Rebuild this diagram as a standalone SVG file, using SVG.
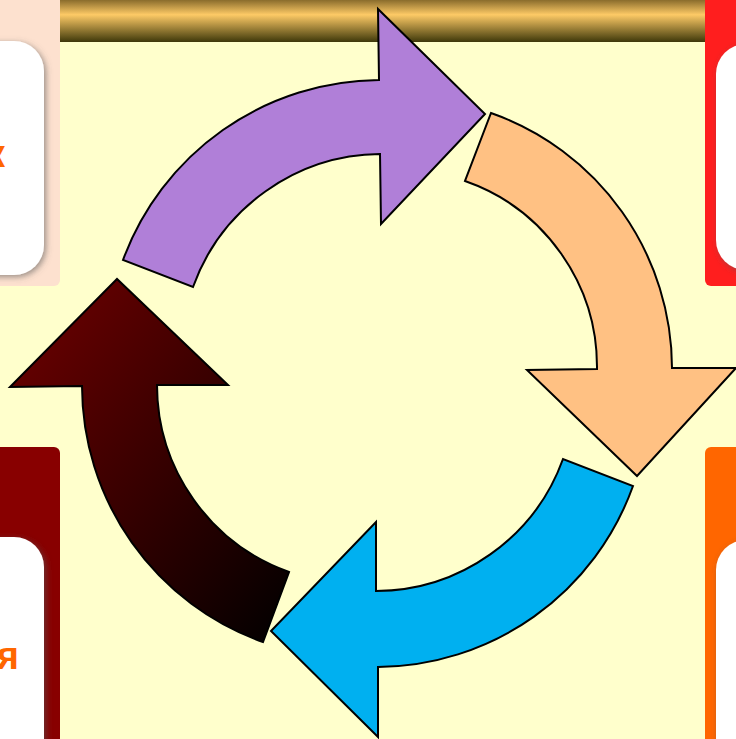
<svg xmlns="http://www.w3.org/2000/svg" width="736" height="739" viewBox="0 0 736 739">
  <defs>
    <linearGradient id="bar" x1="0" y1="0" x2="0" y2="1">
      <stop offset="0" stop-color="#8a6c2c"/>
      <stop offset="0.35" stop-color="#fdca66"/>
      <stop offset="1" stop-color="#3e380a"/>
    </linearGradient>
    <linearGradient id="dark" x1="0" y1="0" x2="1" y2="1">
      <stop offset="0" stop-color="#720000"/>
      <stop offset="1" stop-color="#000000"/>
    </linearGradient>
    <filter id="shadow" x="-30%" y="-30%" width="160%" height="160%">
      <feDropShadow dx="2" dy="2" stdDeviation="3" flood-color="#555555" flood-opacity="0.6"/>
    </filter>
  </defs>
  <style>
    .arrow { stroke: #000000; stroke-width: 2; stroke-linejoin: miter; }
    .card { fill: #ffffff; filter: url(#shadow); }
    .label { font-family: "Liberation Sans", Arial, sans-serif; font-weight: bold; font-size: 38px; fill: #ff6600; }
  </style>
  <rect x="0" y="0" width="736" height="739" fill="#ffffcc"/>
  <rect id="topbar" x="60" y="0" width="645" height="42" fill="url(#bar)"/>

  <g id="panel-top-left">
    <rect x="-10" y="-10" width="70" height="296" rx="6" fill="#fde1cf"/>
    <rect class="card" x="-60" y="41" width="104" height="234" rx="30"/>
    <text class="label" x="5" y="167" text-anchor="end">к</text>
  </g>
  <g id="panel-top-right">
    <rect x="705" y="-10" width="50" height="296" rx="6" fill="#ff1e1e"/>
    <rect class="card" x="716" y="44" width="80" height="226" rx="30"/>
  </g>
  <g id="panel-bottom-left">
    <rect x="-10" y="447" width="70" height="310" rx="6" fill="#880000"/>
    <rect class="card" x="-60" y="537" width="104" height="240" rx="30"/>
    <text class="label" x="19" y="669" text-anchor="end">я</text>
  </g>
  <g id="panel-bottom-right">
    <rect x="705" y="447" width="50" height="310" rx="6" fill="#ff6600"/>
    <rect class="card" x="716" y="540" width="80" height="240" rx="30"/>
  </g>

  <g id="arrow-purple">
    <path class="arrow" fill="#b07fd8" d="M 123,260 A 275 275 0 0 1 379,80 L 378,9 L 485,114 L 381,224 L 380,154 A 201 201 0 0 0 193,287 Z"/>
  </g>
  <g id="arrow-orange">
    <path class="arrow" fill="#ffc183" d="M 491,113 A 271 271 0 0 1 672,368 L 736,368 L 637,476 L 527,370 L 597,369 A 197 197 0 0 0 465,181 Z"/>
  </g>
  <g id="arrow-blue">
    <path class="arrow" fill="#00b0f0" d="M 633,486 A 273 273 0 0 1 378,667 L 378,737 L 271,631 L 376,522 L 376,591 A 200 200 0 0 0 563,459 Z"/>
  </g>
  <g id="arrow-dark">
    <path class="arrow" fill="url(#dark)" d="M 263,642 A 272 272 0 0 1 82,386 L 10,387 L 117,279 L 228,385 L 157,385 A 199 199 0 0 0 289,572 Z"/>
  </g>
  <g id="connectors"/>
</svg>
